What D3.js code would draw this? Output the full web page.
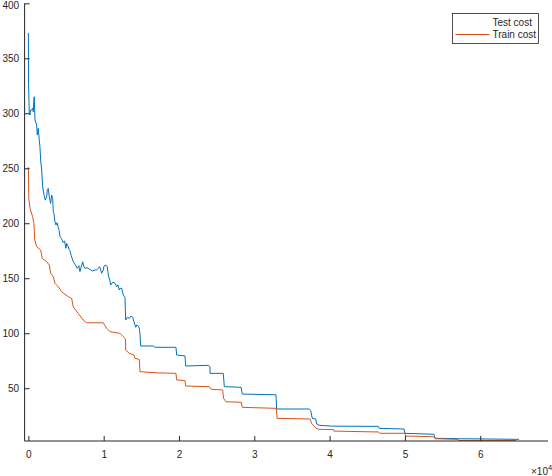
<!DOCTYPE html>
<html>
<head>
<meta charset="utf-8">
<script src="https://cdn.jsdelivr.net/npm/d3@7"></script>
<style>
    body { margin: 0; background: #fff; }
    svg text { font-family: "Liberation Sans", Arial, sans-serif; fill: #262626; }
</style>
</head>
<body>
<div id="chart"></div>
<script>
// test cost (noisy) : iteration / cost
let testIter = [0, 20, 80, 120, 210, 305, 440, 570, 650, 745, 785, 880, 1100, 1180, 1315, 1450, 1540, 1630, 1770, 1900,
    2070, 2240, 2430, 2510, 2640, 2780, 2870, 2960, 3090, 3230, 3310, 3400, 3530, 3670, 3800, 3970, 4080, 4200, 4400, 4630,
    4800, 4990, 5090, 5300, 5400, 5520, 5700, 5960, 6200, 6490, 6700, 6850, 7000, 7210, 7350, 7520, 7800, 8180, 8500, 8840,
    9070, 9250, 9420, 9510, 9730, 9950, 10040, 10300, 10480, 10610, 10840, 10930, 11200, 11500, 11730, 11900, 12070, 12160, 12390, 12600,
    12830, 12920, 13150, 13400, 13600, 13850, 14020, 14250, 14400, 14590, 14730, 14820, 14860, 14910, 16590, 16810, 19600, 19690, 20800, 20890,
    23890, 24120, 24120, 25880, 26020, 28250, 28400, 32880, 32970, 37300, 37490, 37700, 38150, 38290, 38630, 40280, 46470, 46600, 49880, 50010,
    53860, 54000, 57090, 65150];
let testCost = [373, 327, 312, 300, 298.4, 303, 303, 304.5, 301.4, 313.5, 315, 294, 289.3, 280.2, 286.3, 275.6, 269.5, 257.5, 248.4, 233,
    226, 221, 224, 230, 231.7, 224, 221, 218, 225.6, 222.5, 210.5, 209, 201.4, 198.4, 200.5, 196, 193.5, 188, 186, 182.5,
    184, 177.2, 181.7, 178.6, 176.5, 175, 170.5, 165, 162.5, 159, 161.5, 156, 160, 165, 161, 159, 159.5, 158, 156.5, 157.5,
    157.5, 159, 160.5, 160, 154.5, 157.5, 161, 162, 160.5, 153, 147.5, 143.8, 146.5, 145.4, 142.3, 144, 139.3, 140.8, 140.8, 135,
    132.5, 112, 114.5, 113.5, 115.5, 114.5, 110.5, 105.4, 107.5, 106.5, 104.5, 99, 95, 88.4, 88.4, 87.2, 87.2, 80.2, 79.3, 70.2,
    70.8, 69.5, 63.5, 63.5, 51.4, 50.8, 44.7, 44, 31.1, 31.1, 29.6, 22.6, 22, 17.5, 16.3, 15.5, 15.3, 13.5, 12.9, 9,
    8.1, 4.5, 4.1, 3.5];

// train cost (stepwise)
let trainIter = [0, 60, 230, 560, 740, 840, 1100, 1630, 1850, 2430, 2780, 2960, 3310, 3530, 3970, 4420, 5300, 5750, 5960, 6620,
    7290, 7740, 9940, 10400, 10830, 12160, 12830, 12900, 12920, 13400, 14020, 14150, 14730, 14820, 17040, 19600, 19690, 20800, 20890, 24050,
    24290, 25800, 25920, 26240, 28270, 28410, 32930, 33030, 37400, 37620, 38060, 38500, 40490, 40570, 46470, 46690, 50000, 50105, 53800, 54000,
    57090, 57100, 64750];
let trainCost = [251, 222, 213.5, 206, 200, 185, 178.6, 175.6, 168, 165, 162, 154.5, 151.4, 145.4, 142.3, 137.7, 133.2, 131.7, 124, 118,
    112, 109.5, 109.5, 104.5, 101.4, 99.9, 95.4, 94.5, 84.7, 81.7, 80.2, 77.2, 76.2, 65, 64, 63.5, 57.5, 56.9, 52, 51.4,
    49, 48.4, 40.8, 37.7, 37.2, 32.6, 31.7, 22.6, 22, 18, 14.5, 12.6, 12.4, 11, 10.2, 9, 9, 6.5, 5.9, 4.1,
    3.5, 2.5, 2.5];

let yTicks = [50, 100, 150, 200, 250, 300, 350, 400];
let xTicks = [0, 10000, 20000, 30000, 40000, 50000, 60000];
let seriesNames = ["Test cost", "Train cost"];
let seriesColors = ["#0072BD", "#D95319"];

let width = 552, height = 476;
let plot = {left: 24.6, right: 548, top: 3.3, bottom: 441};

let svg = d3.select("#chart").append("svg")
    .attr("width", width)
    .attr("height", height);

let x = d3.scaleLinear().domain([-500, 69000]).range([plot.left, plot.right]);
let y = d3.scaleLinear().domain([2, 400]).range([plot.bottom, plot.top]);

svg.append("defs").append("clipPath")
    .attr("id", "clip")
    .append("rect")
    .attr("x", plot.left).attr("y", 0)
    .attr("width", plot.right - plot.left)
    .attr("height", plot.bottom);

let line = d3.line()
    .x(d => x(d[0]))
    .y(d => y(d[1]));

let testData = testIter.map((d, i) => [d, testCost[i]]);
let trainData = trainIter.map((d, i) => [d, trainCost[i]]);

let lines = svg.append("g").attr("clip-path", "url(#clip)");
lines.append("path")
    .datum(testData)
    .attr("fill", "none")
    .attr("stroke", seriesColors[0])
    .attr("stroke-width", 1)
    .attr("d", line);
lines.append("path")
    .datum(trainData)
    .attr("fill", "none")
    .attr("stroke", seriesColors[1])
    .attr("stroke-width", 1)
    .attr("d", line);

// axes, matlab style ticks point inward
let xAxis = d3.axisBottom(x)
    .tickValues(xTicks)
    .tickSize(-5)
    .tickPadding(10)
    .tickFormat(d => d / 10000);
let gx = svg.append("g")
    .attr("transform", `translate(0, ${plot.bottom})`)
    .call(xAxis);
gx.select(".domain").attr("d", `M${plot.left},0H${plot.right}`);

let yAxis = d3.axisLeft(y)
    .tickValues(yTicks)
    .tickSize(-5)
    .tickPadding(5.5);
let gy = svg.append("g")
    .attr("transform", `translate(${plot.left}, 0)`)
    .call(yAxis);
gy.select(".domain").attr("d", `M0,${plot.top}V${plot.bottom}`);

svg.selectAll(".domain, .tick line").attr("stroke", "#262626");
svg.selectAll(".tick text")
    .attr("font-size", 10)
    .attr("fill", "#262626");
// top label sits against the edge as in the reference
gy.selectAll(".tick text").filter(d => d === 400).attr("dy", "0.5em");

// exponent label
let expo = svg.append("text")
    .attr("x", 531)
    .attr("y", 475)
    .attr("font-size", 10);
expo.append("tspan").text("\u00d710");
expo.append("tspan").attr("dy", -5).attr("font-size", 7.5).text("4");

// legend
let legend = svg.append("g").attr("transform", "translate(452.5, 13.5)");
legend.append("rect")
    .attr("width", 86)
    .attr("height", 30)
    .attr("fill", "#fff")
    .attr("stroke", "#262626")
    .attr("stroke-width", 0.8);
legend.selectAll(".entry")
    .data(seriesNames)
    .enter()
    .append("text")
    .attr("x", 40)
    .attr("y", (d, i) => 12.5 + i * 12)
    .attr("font-size", 10)
    .text(d => d);
legend.append("line")
    .attr("x1", 3).attr("x2", 37)
    .attr("y1", 21).attr("y2", 21)
    .attr("stroke", seriesColors[1])
    .attr("stroke-width", 1);
</script>
</body>
</html>
